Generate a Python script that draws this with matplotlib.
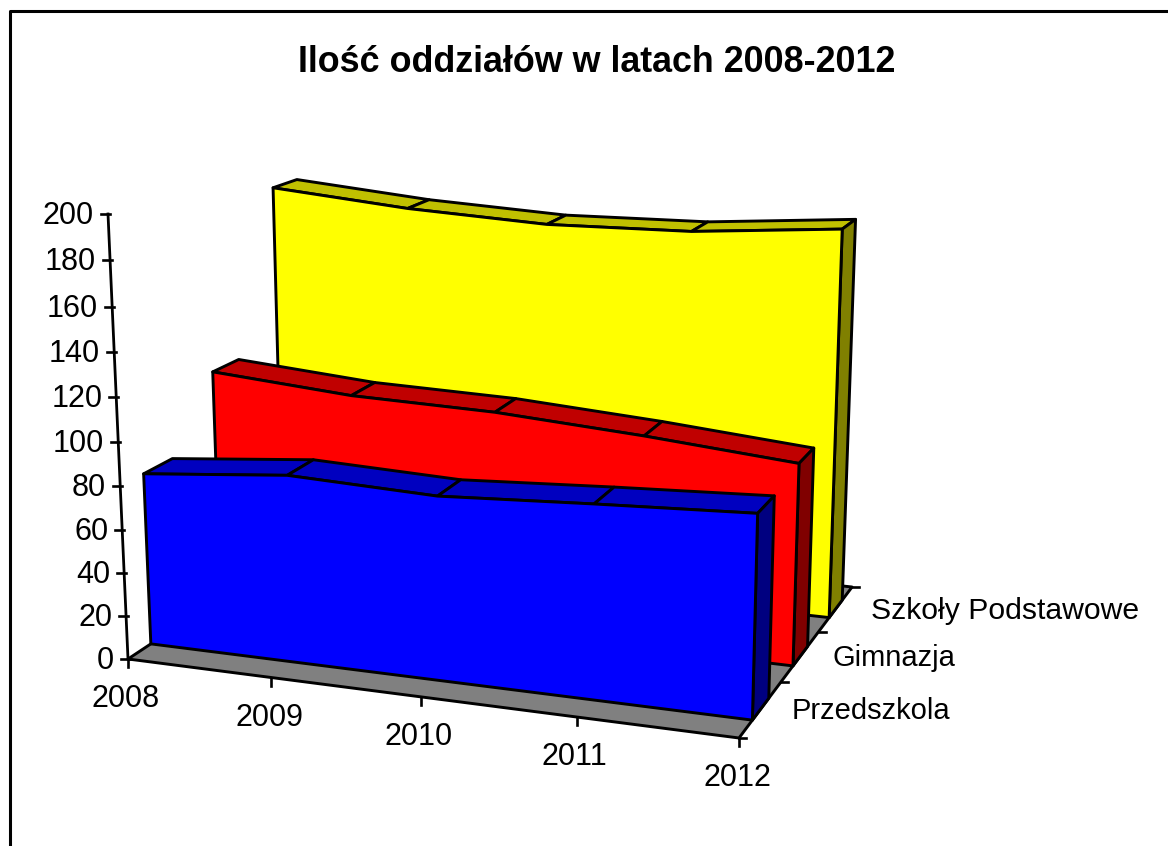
import matplotlib
matplotlib.use("Agg")
import matplotlib.pyplot as plt
import numpy as np

plt.rcParams['font.family'] = ['Liberation Sans', 'DejaVu Sans']

# ----- Data -----
years = [2008, 2009, 2010, 2011, 2012]
series_names = ["Przedszkola", "Gimnazja", "Szkoły Podstawowe"]
przedszkola = [80, 86, 83.5, 87, 90]
gimnazja = [111, 105.5, 103.7, 99, 93]
szkoly = [187, 181, 177.6, 178.6, 184]
value_ticks = list(range(0, 201, 20))

# ----- Colours (front, top, side) -----
colours = [("#0000FF", "#0000C0", "#000080"),
           ("#FF0000", "#C00000", "#800000"),
           ("#FFFF00", "#C0C000", "#808000")]

# ----- Projection set up, all corners in pixels -----
O = np.array([128.0, 659.0])     # 2008, front, 0
P_year = np.array([739.0, 738.0])  # 2012, front, 0
P_depth = np.array([323.0, 529.9])  # 2008, back, 0
P_val = np.array([108.0, 214.0])  # 2008, front, 200
a_year, a_depth, a_val = -0.08, 0.172, -0.0476
half_width = 0.065


def project(year, depth, value):
    """Perspective projection of a point in chart units to pixels."""
    u = (year - years[0]) / (years[-1] - years[0])
    w = value / value_ticks[-1]
    h = 1 + a_year * u + a_depth * depth + a_val * w
    p = (O + u * ((1 + a_year) * P_year - O)
         + depth * ((1 + a_depth) * P_depth - O)
         + w * ((1 + a_val) * P_val - O))
    return p / h


def face(ax, corners, colour):
    pts = [project(*c) for c in corners]
    ax.fill([p[0] for p in pts], [p[1] for p in pts], facecolor=colour,
            edgecolor="black", linewidth=2.1, joinstyle="round")


fig = plt.figure(figsize=(11.68, 8.46), dpi=100)
ax = fig.add_axes([0, 0, 1, 1])
ax.set_xlim(0, 1168)
ax.set_ylim(846, 0)
ax.axis("off")

# Outer frame, only left and top are inside the picture
ax.plot([9.5, 9.5, 1168], [846, 11.5, 11.5], color="black", linewidth=2.2)

ax.text(597, 63, "Ilość oddziałów w latach 2008-2012", fontsize=25.8,
        fontweight="bold", ha="center", va="center")

# Floor
face(ax, [(years[0], 0, 0), (years[-1], 0, 0),
          (years[-1], 1, 0), (years[0], 1, 0)], "#808080")

# Areas, back to front
for i in [2, 1, 0]:
    values = [przedszkola, gimnazja, szkoly][i]
    front_col, top_col, side_col = colours[i]
    centre = (i + 0.5) / 3
    d0, d1 = centre - half_width, centre + half_width

    # Top strips
    for n in range(len(years) - 1):
        face(ax, [(years[n], d0, values[n]), (years[n + 1], d0, values[n + 1]),
                  (years[n + 1], d1, values[n + 1]), (years[n], d1, values[n])],
             top_col)

    # Right side
    face(ax, [(years[-1], d0, 0), (years[-1], d1, 0),
              (years[-1], d1, values[-1]), (years[-1], d0, values[-1])],
         side_col)

    # Front
    outline = [(years[0], d0, 0)]
    outline += [(y, d0, v) for y, v in zip(years, values)]
    outline += [(years[-1], d0, 0)]
    face(ax, outline, front_col)

# Value axis
bottom = project(years[0], 0, 0)
top = project(years[0], 0, value_ticks[-1])
ax.plot([bottom[0], top[0]], [bottom[1], top[1]], color="black", linewidth=2.0)
for v in value_ticks:
    p = project(years[0], 0, v)
    ax.plot([p[0] - 7, p[0] + 2], [p[1], p[1]], color="black", linewidth=1.9)
    ax.text(p[0] - 14, p[1] + 2, str(v), fontsize=22, ha="right", va="center")

# Year axis
for y in years:
    p = project(y, 0, 0)
    ax.plot([p[0], p[0]], [p[1], p[1] + 8], color="black", linewidth=1.9)
    ax.text(p[0] - 2, p[1] + 40, str(y), fontsize=22, ha="center", va="center")

# Depth axis
for d in [0, 1 / 3, 2 / 3, 1]:
    p = project(years[-1], d, 0)
    ax.plot([p[0], p[0] + 7], [p[1], p[1]], color="black", linewidth=1.9)
label_sizes = [21, 21, 21.7]
label_shift = [31, 32, 35]
for i, name in enumerate(series_names):
    p = project(years[-1], (i + 0.5) / 3, 0)
    ax.text(p[0] + label_shift[i], p[1] + 2, name, fontsize=label_sizes[i],
            ha="left", va="center")

fig.savefig("out.png", dpi=100)
